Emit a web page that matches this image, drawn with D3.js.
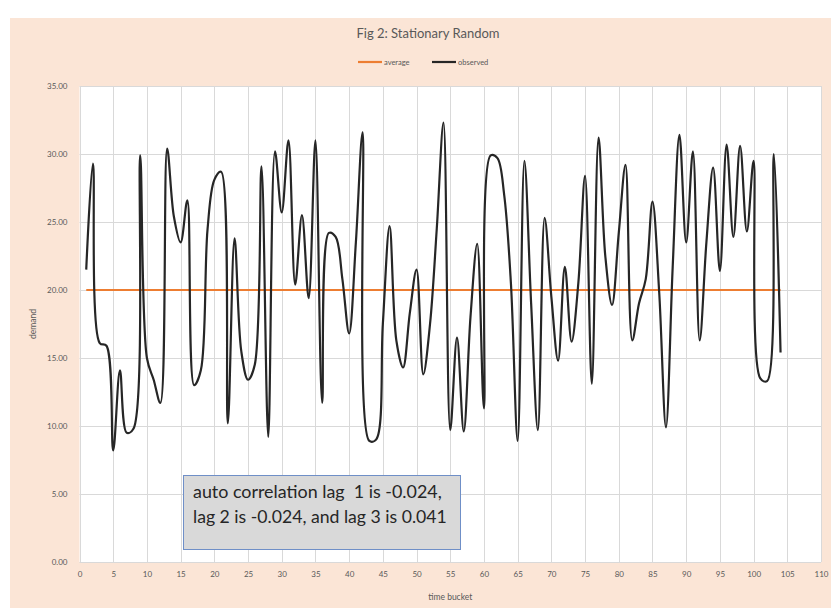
<!DOCTYPE html>
<html>
<head>
<meta charset="utf-8">
<script src="https://cdn.jsdelivr.net/npm/d3@7"></script>
<style>
  body { margin: 0; background: #ffffff; }
  svg { display: block; font-family: Lato, "Noto Sans", sans-serif; }
</style>
</head>
<body>
<div id="viz"></div>
<script>
var width = 831,
    height = 611;

// time buckets 1..104 and observed demand
var buckets = d3.range(1, 105);
var observed = [
  21.5, 29.3, 16.1, 15.9, 8.2, 14.1, 9.5, 9.8, 29.9, 15.0,
  13.4, 11.7, 30.4, 25.4, 23.5, 26.6, 13.0, 14.1, 24.5, 28.1,
  28.7, 10.2, 23.8, 15.5, 13.4, 14.5, 29.1, 9.2, 30.2, 25.7,
  31.0, 20.4, 25.5, 19.4, 31.0, 11.7, 24.2, 23.9, 20.8, 16.8,
  23.5, 31.6, 8.9, 9.0, 17.5, 24.7, 16.3, 14.3, 18.3, 21.5,
  13.8, 17.5, 24.5, 32.3, 9.7, 16.5, 9.6, 18.0, 23.4, 11.3,
  29.9, 29.7, 27.0, 20.5, 8.9, 29.5, 19.0, 9.7, 25.3, 19.5,
  14.8, 21.7, 16.2, 20.5, 28.4, 13.1, 31.2, 22.5, 18.9, 24.2,
  29.2, 16.3, 19.0, 20.8, 26.5, 19.8, 9.9, 21.7, 31.4, 23.5,
  30.2, 16.3, 23.5, 29.0, 21.4, 30.7, 23.9, 30.6, 24.3, 29.5,
  13.5, 13.3, 30.0, 15.4
];
var average = buckets.map(function() { return 20.0; });

var xTicks = d3.range(0, 111, 5);
var yTicks = d3.range(0, 36, 5);

var title = "Fig 2: Stationary Random";
var seriesNames = ["average", "observed"];
var seriesColors = ["#ED7D31", "#262626"];
var noteLines = ["auto correlation lag  1 is -0.024,", "lag 2 is -0.024, and lag 3 is 0.041"];

var svg = d3.select("#viz").append("svg")
    .attr("width", width)
    .attr("height", height);

// chart area
svg.append("rect")
    .attr("x", 10).attr("y", 18)
    .attr("width", width - 10).attr("height", 590)
    .attr("fill", "#FBE5D6");

var x = d3.scaleLinear().domain([0, 110]).range([79.5, 821]);
var y = d3.scaleLinear().domain([0, 35]).range([562, 86]);

// plot area
svg.append("rect")
    .attr("x", x(0)).attr("y", y(35))
    .attr("width", x(110) - x(0)).attr("height", y(0) - y(35))
    .attr("fill", "#ffffff");

// gridlines
var grid = svg.append("g").attr("stroke", "#d9d9d9").attr("stroke-width", 1);
grid.selectAll("line.v").data(xTicks).enter().append("line")
    .attr("class", "v")
    .attr("x1", function(d) { return Math.round(x(d)) + 0.5; })
    .attr("x2", function(d) { return Math.round(x(d)) + 0.5; })
    .attr("y1", y(0)).attr("y2", y(35));
grid.selectAll("line.h").data(yTicks).enter().append("line")
    .attr("class", "h")
    .attr("y1", function(d) { return Math.round(y(d)) + 0.5; })
    .attr("y2", function(d) { return Math.round(y(d)) + 0.5; })
    .attr("x1", x(0)).attr("x2", x(110));

// axes (labels only, Excel style)
var xAxis = svg.append("g")
    .attr("transform", "translate(0," + (y(0) + 6) + ")")
    .call(d3.axisBottom(x).tickValues(xTicks).tickSize(0).tickFormat(d3.format("d")));
xAxis.select(".domain").remove();
xAxis.selectAll("text").attr("font-size", 8).attr("fill", "#595959").attr("font-family", "Lato");

var yAxis = svg.append("g")
    .attr("transform", "translate(" + (x(0) - 9) + ",0)")
    .call(d3.axisLeft(y).tickValues(yTicks).tickSize(0).tickFormat(d3.format(".2f")));
yAxis.select(".domain").remove();
yAxis.selectAll("text").attr("font-size", 8).attr("fill", "#595959").attr("font-family", "Lato");

svg.append("text")
    .attr("x", (x(0) + x(110)) / 2).attr("y", 600)
    .attr("text-anchor", "middle")
    .attr("font-size", 8.5).attr("fill", "#595959")
    .text("time bucket");

svg.append("text")
    .attr("transform", "translate(36," + ((y(0) + y(35)) / 2) + ") rotate(-90)")
    .attr("text-anchor", "middle")
    .attr("font-size", 8.5).attr("fill", "#595959")
    .text("demand");

// title
svg.append("text")
    .attr("x", 428).attr("y", 38)
    .attr("text-anchor", "middle")
    .attr("font-size", 13).attr("fill", "#595959")
    .text(title);

// legend
var legend = svg.append("g").attr("transform", "translate(358,62)");
var legendX = [0, 74];
seriesNames.forEach(function(name, i) {
    var g = legend.append("g").attr("transform", "translate(" + legendX[i] + ",0)");
    g.append("line")
        .attr("x1", 0).attr("x2", 24)
        .attr("stroke", seriesColors[i]).attr("stroke-width", 2.2);
    g.append("text")
        .attr("x", 26).attr("y", 2.5)
        .attr("font-size", 7.5).attr("fill", "#595959")
        .text(name);
});

// series
var avgLine = d3.line()
    .x(function(d, i) { return x(buckets[i]); })
    .y(function(d) { return y(d); });

svg.append("path")
    .datum(average)
    .attr("fill", "none")
    .attr("stroke", seriesColors[0])
    .attr("stroke-width", 2.2)
    .attr("d", avgLine);

// Excel "smoothed line" is close to a chord-length Catmull-Rom spline
var obsLine = d3.line()
    .curve(d3.curveCatmullRom.alpha(0.5))
    .x(function(d, i) { return x(buckets[i]); })
    .y(function(d) { return y(d); });

svg.append("path")
    .datum(observed)
    .attr("fill", "none")
    .attr("stroke", seriesColors[1])
    .attr("stroke-width", 2.2)
    .attr("stroke-linejoin", "round")
    .attr("d", obsLine);

// annotation box
svg.append("rect")
    .attr("x", 183.5).attr("y", 475.5)
    .attr("width", 277).attr("height", 74)
    .attr("fill", "#d9d9d9")
    .attr("stroke", "#6f8fc7").attr("stroke-width", 1);

var note = svg.append("g");
noteLines.forEach(function(line, i) {
    var t = note.append("text")
        .attr("x", 193).attr("y", 498 + i * 25)
        .attr("font-size", 15).attr("fill", "#262626")
        .style("white-space", "pre")
        .text(line);
    // fit to the width measured in the reference
    var target = i === 0 ? 249 : 254;
    var w = t.node().getComputedTextLength();
    t.attr("font-size", 15 * target / w);
});
</script>
</body>
</html>
